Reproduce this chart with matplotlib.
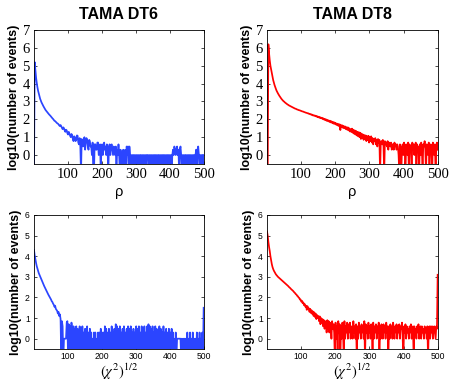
import numpy as np
import matplotlib.pyplot as plt

# log10(number of events), one value per 2-unit bin
# -1 marks an empty bin: the trace drops off the bottom of the axes
bin_width = 2

dt6_rho = [
    -1, 5.2, 4.75, 4.35, 4.05, 3.8, 3.6, 3.45, 3.3, 3.15,
    3.05, 2.95, 2.87, 2.8, 2.72, 2.65, 2.58, 2.52, 2.47, 2.42,
    2.38, 2.33, 2.28, 2.24, 2.2, 2.15, 2.1, 2.06, 2.02, 1.97,
    1.92, 1.9, 1.86, 1.82, 1.78, 1.76, 1.72, 1.66, 1.62, 1.68,
    1.6, 1.52, 1.45, 1.55, 1.5, 1.38, 1.3, 1.42, 1.38, 1.22,
    1.15, 1.3, 1.2, 1.08, 1.0, 1.18, 1.1, 0.9, 0.78, 1.05,
    1.0, 0.78, 0.85, 1.1, 1.08, 0.7, 0.6, 0.95, 0.48, -1,
    0.9, 0.6, 0.48, 0.85, 1.0, 0.3, 0.7, 0.95, 0.85, 0.48,
    0.3, 0.85, 0.78, 0.48, 0.48, 0.0, 0.7, -1, -1, 0.6,
    0.6, 0.3, 0.3, 0.7, 0.7, 0.0, 0.3, 0.6, -1, 0.48,
    0.6, 0.0, 0.3, 0.7, 0.3, 0.48, 0.0, 0.6, 0.3, -1,
    0.48, 0.6, 0.0, 0.48, 0.6, 0.3, 0.0, 0.48, 0.3, 0.0,
    0.48, -1, 0.3, 0.0, 0.6, 0.0, -1, 0.3, 0.0, -1,
    0.0, 0.3, -1, 0.0, 0.3, -1, 0.48, 0.0, 0.48, -1,
    0.48, 0.0, -1, 0.0, -1, 0.0, 0.0, -1, 0.0, -1,
    0.0, -1, 0.0, -1, 0.0, -1, 0.0, 0.0, -1, 0.0,
    -1, 0.0, -1, 0.0, -1, 0.0, 0.0, 0.0, -1, 0.0,
    -1, 0.0, -1, 0.0, -1, 0.0, -1, 0.0, 0.0, -1,
    0.0, -1, 0.0, 0.0, -1, 0.0, -1, 0.0, -1, 0.0,
    0.0, -1, 0.0, -1, 0.0, -1, 0.0, 0.0, -1, 0.0,
    -1, 0.0, -1, 0.0, 0.3, 0.0, 0.48, 0.3, 0.0, 0.3,
    0.48, 0.0, 0.3, -1, 0.3, 0.48, 0.0, -1, 0.0, -1,
    0.0, -1, 0.0, 0.0, -1, 0.0, -1, 0.0, 0.0, -1,
    0.0, -1, 0.0, -1, 0.0, 0.0, -1, 0.0, 0.3, -1,
    0.3, 0.48, 0.0, -1, 0.0, -1, 0.0, 0.0, -1, 0.0,
]

dt8_rho = [
    -1, -1, 6.2, 5.7, 5.3, 5.0, 4.8, 4.6, 4.4, 4.2,
    4.05, 3.92, 3.8, 3.7, 3.6, 3.52, 3.45, 3.38, 3.32, 3.26,
    3.2, 3.15, 3.1, 3.06, 3.02, 2.99, 2.95, 2.92, 2.89, 2.86,
    2.83, 2.81, 2.78, 2.76, 2.74, 2.72, 2.7, 2.68, 2.66, 2.64,
    2.62, 2.6, 2.59, 2.57, 2.55, 2.54, 2.52, 2.51, 2.5, 2.48,
    2.47, 2.45, 2.44, 2.43, 2.41, 2.4, 2.38, 2.37, 2.36, 2.34,
    2.34, 2.31, 2.31, 2.28, 2.29, 2.25, 2.26, 2.22, 2.23, 2.2,
    2.21, 2.17, 2.19, 2.14, 2.16, 2.11, 2.14, 2.08, 2.11, 2.06,
    2.09, 2.02, 2.06, 1.99, 2.03, 1.95, 2.0, 1.92, 1.97, 1.9,
    1.94, 1.86, 1.92, 1.83, 1.89, 1.8, 1.86, 1.76, 1.83, 1.74,
    1.8, 1.7, 1.76, 1.66, 1.74, 1.62, 1.72, 1.4, 1.68, 1.58,
    1.66, 1.52, 1.62, 1.5, 1.6, 1.45, 1.56, 1.42, 1.55, 1.38,
    1.5, 1.32, 1.45, 1.3, 1.48, 1.25, 1.42, 1.2, 1.38, 1.15,
    1.35, 1.1, 1.3, 1.05, 1.28, 1.0, 1.25, 0.9, 1.2, 0.95,
    1.15, 0.85, 1.12, 0.9, 1.1, 0.78, 1.05, 0.85, 1.08, 0.7,
    1.0, 0.78, 1.05, 0.7, 0.95, 0.6, 0.9, 0.78, 0.95, 0.6,
    0.85, 0.48, 0.9, 0.7, 0.85, -1, 0.7, 0.78, 0.6, 0.85,
    0.48, -1, 0.78, 0.6, 0.7, 0.48, 0.78, 0.3, 0.7, 0.6,
    0.48, 0.7, 0.3, 0.6, 0.6, 0.3, 0.7, 0.48, 0.6, 0.3,
    0.6, 0.48, 0.0, -1, 0.6, 0.3, -1, 0.48, 0.6, 0.0,
    0.7, 0.3, -1, 0.6, 0.48, 0.0, 0.7, -1, 0.6, 0.3,
    0.48, -1, 0.7, 0.3, 0.6, 0.0, 0.48, 0.7, -1, 0.6,
    0.3, 0.48, -1, 0.6, 0.0, 0.7, 0.3, -1, 0.6, 0.48,
    0.78, 0.3, -1, 0.6, 0.48, 0.0, 0.7, -1, 0.48, 0.6,
    0.3, -1, 0.7, 0.48, 0.0, 0.6, -1, 0.48, 0.7, 0.3,
]

dt6_chi = [
    4.3, 4.05, 3.85, 3.68, 3.52, 3.4, 3.28, 3.18, 3.1, 3.02,
    2.94, 2.86, 2.78, 2.7, 2.62, 2.55, 2.48, 2.4, 2.33, 2.26,
    2.2, 2.14, 2.08, 2.02, 1.95, 1.9, 1.82, 1.78, 1.7, 1.65,
    1.55, 1.6, 1.45, 1.4, 1.35, 1.22, 1.3, 1.1, 1.18, 0.95,
    -1, 0.85, 0.6, -1, 0.0, 0.0, 0.0, 0.0, 0.78, 0.85,
    -1, 0.7, -1, 0.6, -1, 0.78, 0.3, -1, 0.6, -1,
    0.48, -1, 0.6, -1, 0.48, 0.3, -1, 0.6, -1, 0.48,
    -1, 0.6, -1, 0.3, -1, 0.48, -1, 0.3, 0.6, -1,
    0.3, -1, 0.48, -1, 0.3, -1, 0.0, -1, 0.3, -1,
    0.3, -1, 0.0, -1, 0.3, -1, 0.3, -1, 0.48, -1,
    0.3, -1, 0.3, -1, 0.6, -1, 0.48, -1, 0.3, -1,
    0.48, -1, 0.3, -1, 0.6, -1, 0.3, -1, 0.48, -1,
    0.7, -1, 0.6, -1, 0.48, -1, 0.6, -1, 0.3, -1,
    0.48, -1, 0.6, -1, 0.3, -1, 0.48, -1, 0.6, -1,
    0.48, -1, 0.6, -1, 0.3, -1, 0.48, -1, 0.3, -1,
    0.6, -1, 0.48, -1, 0.6, -1, 0.3, -1, 0.6, -1,
    0.48, -1, 0.6, -1, 0.3, -1, 0.6, -1, 0.7, -1,
    0.6, -1, 0.48, -1, 0.6, -1, 0.3, -1, 0.6, -1,
    0.48, -1, 0.3, -1, 0.6, -1, 0.48, -1, 0.3, -1,
    0.6, -1, 0.3, -1, 0.48, -1, 0.3, -1, 0.48, -1,
    0.3, -1, 0.48, -1, 0.3, -1, 0.0, -1, 0.3, -1,
    0.0, 0.0, 0.0, 0.0, 0.0, 0.0, -1, 0.0, -1, 0.0,
    -1, 0.0, -1, 0.0, -1, 0.3, -1, 0.0, -1, 0.3,
    -1, 0.0, -1, 0.3, -1, 0.0, -1, 0.0, -1, 0.3,
    -1, 0.0, -1, 0.3, -1, 0.0, -1, 0.3, -1, 1.5,
]

dt8_chi = [
    5.2, 5.0, 4.7, 4.45, 4.25, 4.0, 3.8, 3.62, 3.48, 3.38,
    3.3, 3.24, 3.18, 3.12, 3.08, 3.04, 3.0, 2.97, 2.94, 2.91,
    2.88, 2.85, 2.82, 2.79, 2.76, 2.73, 2.7, 2.67, 2.64, 2.61,
    2.58, 2.55, 2.51, 2.48, 2.45, 2.41, 2.38, 2.35, 2.32, 2.28,
    2.24, 2.21, 2.16, 2.14, 2.08, 2.06, 2.0, 1.98, 1.9, 1.9,
    1.8, 1.84, 1.72, 1.76, 1.62, 1.68, 1.55, 1.6, 1.4, 1.58,
    1.42, 1.48, 1.3, 1.45, 1.25, 1.38, 1.2, 1.32, 1.1, 1.28,
    1.05, 1.22, 0.95, 1.15, 1.0, 1.1, 0.85, 1.08, 0.7, 1.0,
    0.78, 0.95, 0.6, 0.9, 0.48, 0.85, 0.7, 0.3, 0.9, 0.48,
    0.85, 0.3, 0.78, 0.6, 0.0, 0.85, 0.48, 0.7, 0.3, -1,
    0.78, 0.0, 0.6, -1, 0.85, 0.3, 0.7, -1, 0.6, 0.0,
    0.78, 0.3, -1, 0.85, 0.0, 0.6, 0.3, 0.78, 0.0, 0.7,
    0.3, 0.78, 0.0, 0.6, 0.48, 0.0, 0.85, 0.3, 0.6, 0.0,
    0.7, -1, 0.6, 0.0, 0.78, 0.3, 0.6, 0.0, 0.7, 0.3,
    0.6, 0.0, 0.85, -1, 0.7, 0.3, 0.6, 0.0, 0.78, 0.3,
    0.6, 0.0, 0.7, 0.48, -1, 0.78, 0.0, 0.6, 0.3, 0.7,
    0.0, 0.6, 0.3, 0.78, -1, 0.6, 0.0, 0.7, 0.48, 0.0,
    0.7, 0.3, 0.6, 0.0, 0.78, 0.3, 0.6, -1, 0.6, 0.0,
    0.7, 0.3, 0.6, 0.0, 0.78, 0.48, 0.0, 0.6, 0.3, 0.7,
    0.0, 0.6, 0.3, 0.7, 0.0, 0.6, 0.48, 0.78, 0.0, -1,
    0.6, 0.3, 0.7, 0.0, 0.6, 0.3, 0.48, 0.0, 0.6, 0.3,
    0.7, 0.0, 0.48, 0.6, -1, 0.6, 0.3, 0.48, 0.0, 0.6,
    0.3, 0.7, 0.0, 0.48, 0.6, 0.0, 0.6, 0.3, 0.48, 0.0,
    0.6, 0.3, 0.48, 0.0, 0.6, -1, 0.48, 0.6, 0.0, 0.6,
    0.3, 0.6, 0.0, 0.48, 0.6, 0.3, 0.0, 0.6, 0.48, 3.1,
]

titles = ["TAMA DT6", "TAMA DT8"]
xticks = [100, 200, 300, 400, 500]
top_yticks = [0, 1, 2, 3, 4, 5, 6, 7]
bottom_yticks = [0, 1, 2, 3, 4, 5, 6]

blue = '#2b45ff'
red = '#ff0000'

plt.rcParams['mathtext.fontset'] = 'stix'

fig = plt.figure(figsize=(4.52, 3.82), dpi=100)
W, H = 452.0, 382.0


def make_axes(left, top, width, height):
    return fig.add_axes([left / W, 1 - (top + height) / H, width / W, height / H])


def draw(ax, values, color, yticks, tick_font, tick_size, xpad):
    x = np.arange(len(values)) * bin_width + bin_width / 2
    ax.plot(x, values, color=color, lw=1.25)
    ax.set_xlim(1, 500)
    ax.set_ylim(-0.5, yticks[-1])
    ax.set_xticks(xticks)
    ax.set_yticks(yticks)
    ax.tick_params(direction='in', top=True, right=True, length=2.5, width=0.5, pad=3)
    ax.tick_params(axis='x', pad=xpad)
    for lab in ax.get_xticklabels() + ax.get_yticklabels():
        lab.set_family(tick_font)
        lab.set_size(tick_size)
    for s in ax.spines.values():
        s.set_linewidth(0.6)
    ax.set_ylabel('log10(number of events)', family='Liberation Sans',
                  fontweight='bold', fontsize=9, labelpad=2)


ax1 = make_axes(34, 30, 170, 134)
ax2 = make_axes(267, 30, 171, 134)
ax3 = make_axes(34, 215, 170, 134)
ax4 = make_axes(267, 215, 171, 134)

draw(ax1, dt6_rho, blue, top_yticks, 'Liberation Serif', 10.5, 3)
draw(ax2, dt8_rho, red, top_yticks, 'Liberation Serif', 10.5, 3)
draw(ax3, dt6_chi, blue, bottom_yticks, 'Liberation Sans', 6.2, 2)
draw(ax4, dt8_chi, red, bottom_yticks, 'Liberation Sans', 6.2, 2)

for ax, t in zip([ax1, ax2], titles):
    ax.set_title(t, family='Liberation Sans', fontweight='bold', fontsize=11.5, pad=8)
    ax.set_xlabel('ρ', family='Liberation Sans', fontsize=10.5, labelpad=3)

for ax in [ax3, ax4]:
    ax.set_xlabel(r'$(\chi^2)^{1/2}$', fontsize=10.5, labelpad=1)

fig.savefig('out.png', dpi=100)
